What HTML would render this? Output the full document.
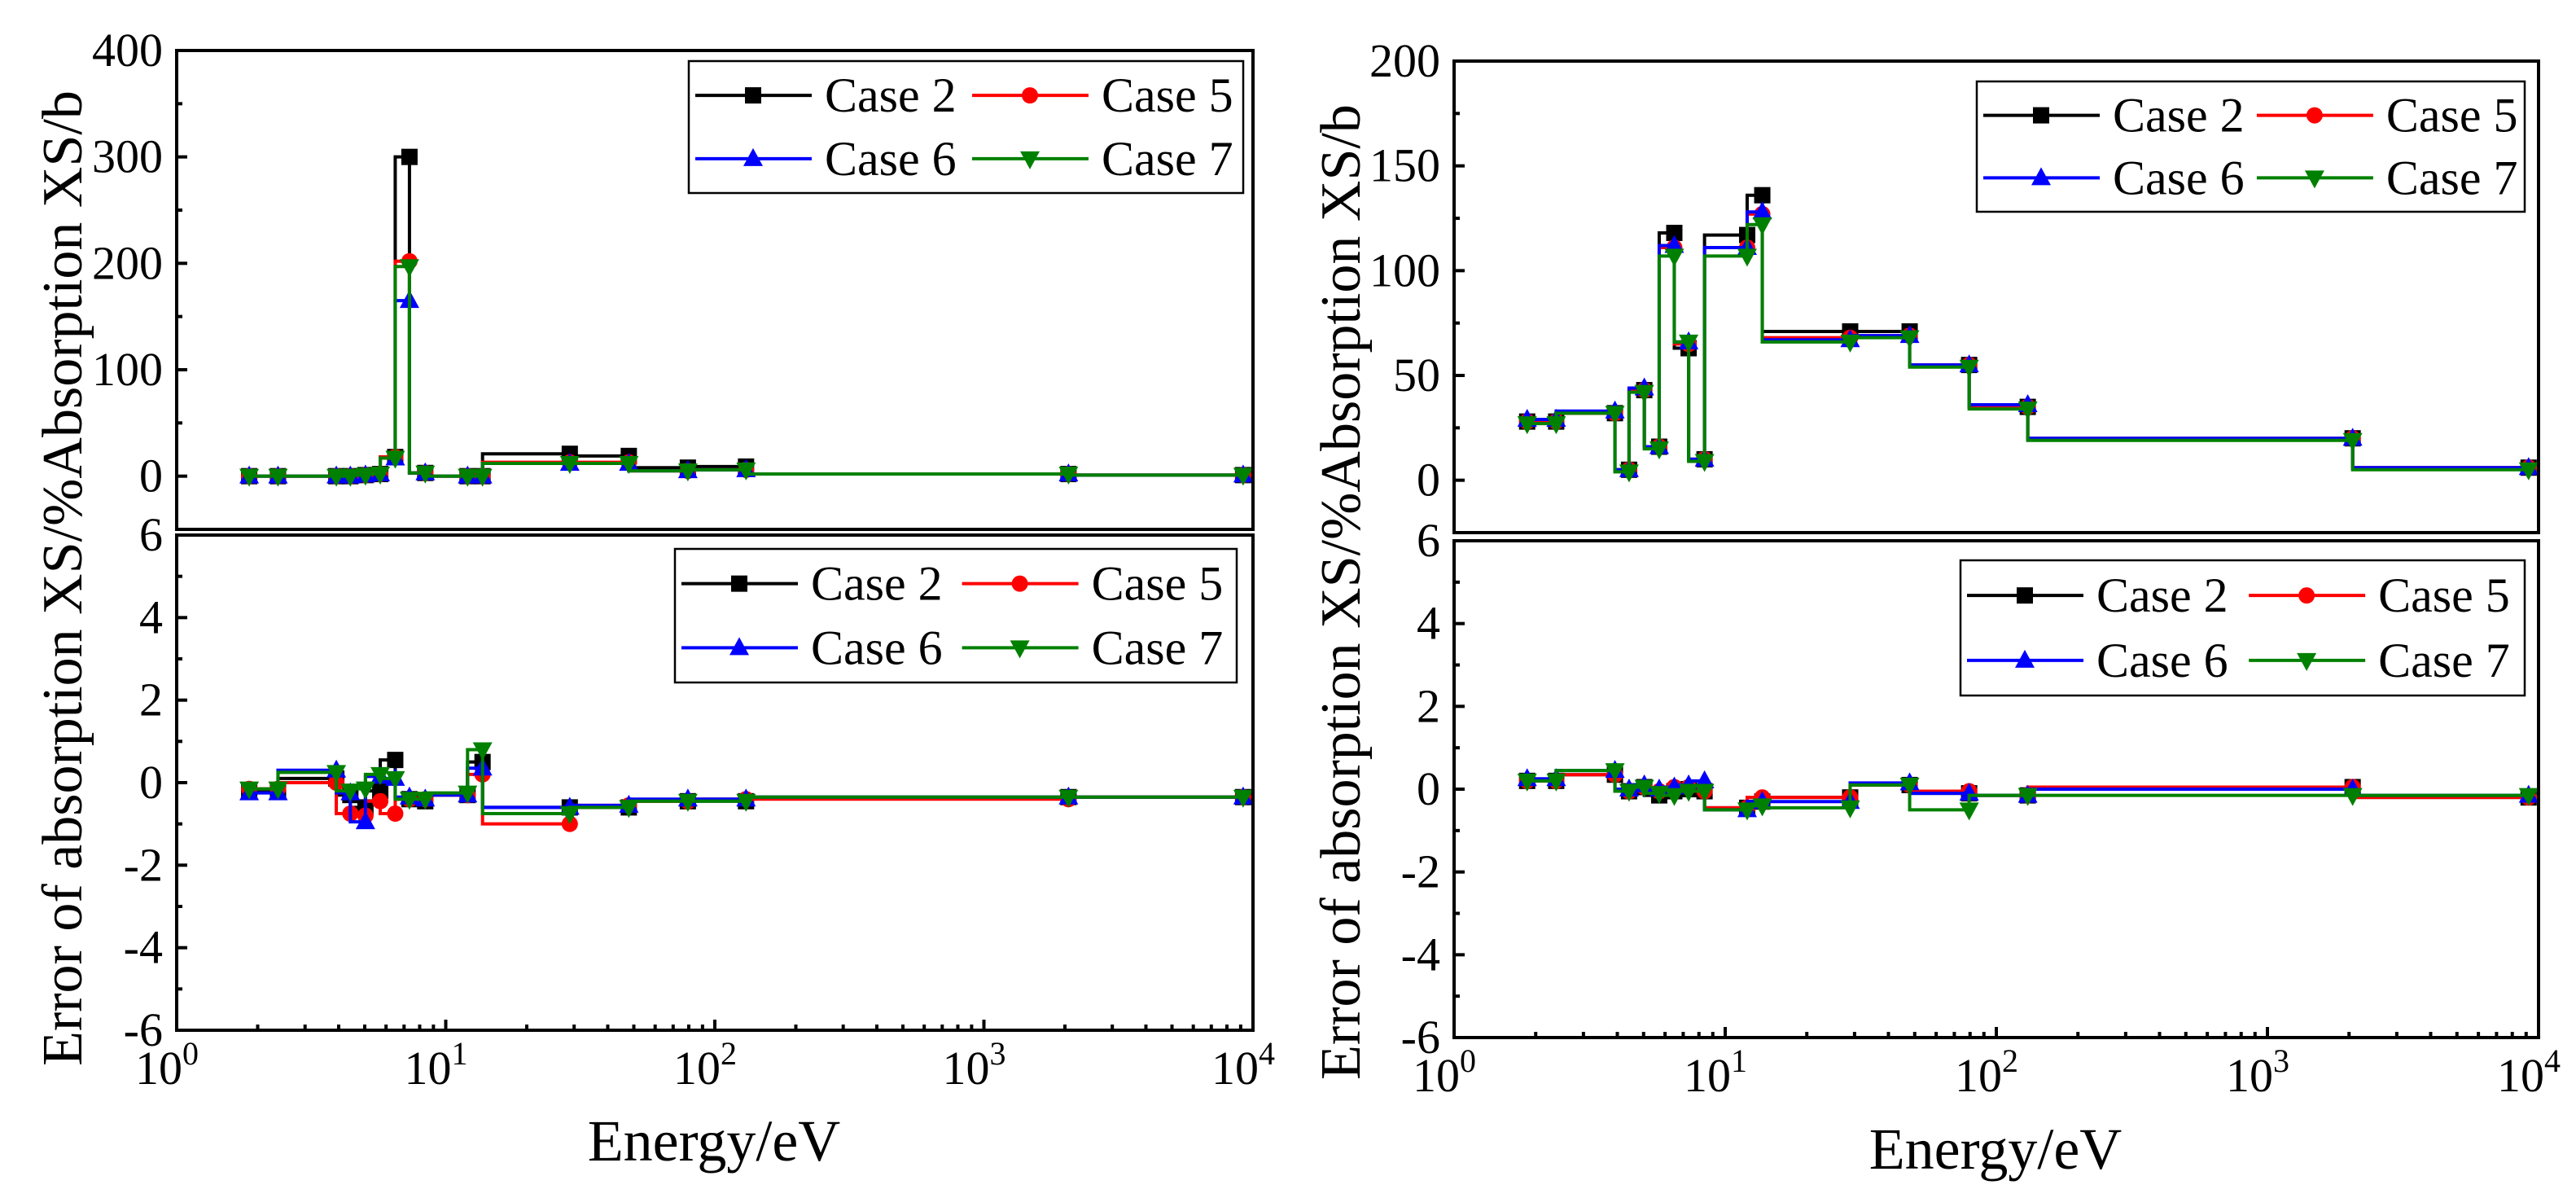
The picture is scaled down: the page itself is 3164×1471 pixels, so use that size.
<!DOCTYPE html>
<html><head><meta charset="utf-8"><style>
html,body{margin:0;padding:0;background:#fff;}
svg{display:block;}
svg text{font-family:"Liberation Serif","Times New Roman","DejaVu Serif","Noto Serif CJK SC",serif;}
</style></head><body>
<svg id="chart" width="3164" height="1471" viewBox="0 0 3164 1471" xmlns="http://www.w3.org/2000/svg"></svg>
<script>
// ---- data ----
const energies = [1.86,2.38,3.92,4.42,5.03,5.71,6.49,7.33,8.39,12.05,13.7,28.9,47.9,79.4,130.6,2062,9190];
const seriesNames = ["Case 2","Case 5","Case 6","Case 7"];
// left top: absorption XS (b)
const leftXS_case2 = [0,0,0,0,1,2,18,300,3,0,0,21,19,8,9,2,1];
const leftXS_case5 = [0,0,0,0,1,2,18,202,3,0,0,13,13,5,6,2,1];
const leftXS_case6 = [0,0,0,0,1,2,17,165,3,0,0,12,12,5,6,2,1];
const leftXS_case7 = [0,0,0,0,1,2,17,197,3,0,0,12,12,5,6,2,1];
// left bottom: error %
const leftErr_case2 = [-0.2,-0.2,0.1,-0.3,-0.6,-0.2,0.55,-0.4,-0.45,-0.3,0.5,-0.6,-0.6,-0.45,-0.45,-0.35,-0.35];
const leftErr_case5 = [-0.15,-0.15,0.0,-0.75,-0.8,-0.45,-0.75,-0.4,-0.4,-0.3,0.2,-1.0,-0.55,-0.45,-0.4,-0.4,-0.35];
const leftErr_case6 = [-0.25,-0.25,0.3,-0.25,-0.95,0.15,0.1,-0.35,-0.4,-0.3,0.35,-0.6,-0.55,-0.4,-0.4,-0.35,-0.35];
const leftErr_case7 = [-0.15,-0.15,0.25,-0.2,-0.15,0.2,0.1,-0.4,-0.4,-0.25,0.8,-0.75,-0.6,-0.45,-0.45,-0.35,-0.35];
// right top
const rightXS_case2 = [28,28,32,5,43,16,118,63,10,117,136,71,71,55,35,20,6];
const rightXS_case5 = [28,28,32,5,43,16,111,65,10,111,127,68,69,55,35,20,6];
const rightXS_case6 = [29,29,33,5,44,16,112,66,10,111,128,67,69,55,36,20,6];
const rightXS_case7 = [27,27,32,4,42,15,107,66,9,107,122,66,68,54,34,19,5];
// right bottom
const rightErr_case2 = [0.2,0.2,0.35,-0.05,0.05,-0.15,-0.05,0.0,-0.05,-0.45,-0.3,-0.2,0.1,-0.1,-0.15,0.05,-0.2];
const rightErr_case5 = [0.2,0.2,0.35,-0.05,0.05,-0.05,0.05,0.05,-0.05,-0.45,-0.2,-0.2,0.1,-0.05,-0.15,0.05,-0.2];
const rightErr_case6 = [0.25,0.25,0.45,0.0,0.1,0.0,0.05,0.1,0.2,-0.5,-0.3,-0.3,0.15,-0.1,-0.15,0.0,-0.15];
const rightErr_case7 = [0.2,0.2,0.45,-0.05,0.05,-0.1,-0.15,-0.05,-0.05,-0.5,-0.4,-0.45,0.1,-0.5,-0.15,-0.15,-0.15];
const xsTicksLeft = [0,100,200,300,400];
const xsTicksRight = [0,50,100,150,200];
const errTicks = [-6,-4,-2,0,2,4,6];
const xDecades = [0,1,2,3,4];

const NS="http://www.w3.org/2000/svg";
const svg=document.getElementById('chart');
const colors=["#000000","#ff0000","#0000ff","#008000"];
const markers=["square","circle","up","down"];
function mk(tag,attrs,parent){const e=document.createElementNS(NS,tag);for(const k in attrs)e.setAttribute(k,attrs[k]);(parent||svg).appendChild(e);return e;}
function marker(kind,x,y,c,g){
  const s=11;let e;
  if(kind==="square")e=mk('rect',{x:x-s+1,y:y-s+1,width:2*s-2,height:2*s-2,fill:c},g);
  else if(kind==="circle")e=mk('circle',{cx:x,cy:y,r:s-1,fill:c},g);
  else if(kind==="up")e=mk('polygon',{points:`${x},${y-s-2} ${x-s-1},${y+s-2} ${x+s+1},${y+s-2}`,fill:c},g);
  else e=mk('polygon',{points:`${x},${y+s+2} ${x-s-1},${y-s+2} ${x+s+1},${y-s+2}`,fill:c},g);
  
  
}
function panel(p){
  const g=mk('g',{});
  
  
  const X=v=>p.x0+(Math.log10(v)-0)/4*(p.x1-p.x0);
  const Y=v=>p.y1-(v-p.ymin)/(p.ymax-p.ymin)*(p.y1-p.y0);
  p.series.forEach((vals,si)=>{
    let d=`M${X(energies[0])},${Y(vals[0])}`;
    for(let i=1;i<vals.length;i++){d+=` L${X(energies[i-1])},${Y(vals[i])} L${X(energies[i])},${Y(vals[i])}`;}
    const sg=mk('g',{},g);
    
    
    const path=mk('path',{d:d,fill:'none',stroke:colors[si],'stroke-width':4},sg);
    
    
    vals.forEach((v,i)=>marker(markers[si],X(energies[i]),Y(v),colors[si],sg));
  });
  const fr=mk('rect',{x:p.x0,y:p.y0,width:p.x1-p.x0,height:p.y1-p.y0,fill:'none',stroke:'#000','stroke-width':4},g);
  
  
  p.ticks.forEach((t,i)=>{
    const y=Y(t);
    mk('line',{x1:p.x0,x2:p.x0+13,y1:y,y2:y,stroke:'#000','stroke-width':4},g);
    if(i<p.ticks.length-1){const ym=Y(t+(p.ticks[1]-p.ticks[0])/2);mk('line',{x1:p.x0,x2:p.x0+7,y1:ym,y2:ym,stroke:'#000','stroke-width':4},g);}
    const tx=mk('text',{x:p.x0-17,y:y+19,'text-anchor':'end','font-size':58},g);
    tx.textContent=t;
    
    
  });
  if(p.xaxis){
    xDecades.forEach(dv=>{
      const x=X(Math.pow(10,dv));
      mk('line',{x1:x,x2:x,y1:p.y1,y2:p.y1-13,stroke:'#000','stroke-width':4},g);
      if(dv<4)for(let m=2;m<=9;m++){const xm=X(m*Math.pow(10,dv));mk('line',{x1:xm,x2:xm,y1:p.y1,y2:p.y1-7,stroke:'#000','stroke-width':4},g);}
      const tx=mk('text',{x:x-12,y:p.y1+66,'text-anchor':'middle','font-size':58},g);
      tx.textContent='10';
      const sup=mk('tspan',{dy:-24,'font-size':40},tx);sup.textContent=String(dv);
      
      
    });
  }
  const L=p.legend;
  const lg=mk('g',{},g);
  
  
  mk('rect',{x:L.x,y:L.y,width:L.w,height:L.h,fill:'#fff',stroke:'#000','stroke-width':2.5},lg);
  const colX=[L.x+8,L.x+348*L.w/681],rowY=[L.y+L.h*0.26,L.y+L.h*0.74];
  seriesNames.forEach((n,i)=>{
    const cx=colX[i%2],cy=rowY[Math.floor(i/2)];
    const e=mk('g',{},lg);
    
    
    mk('line',{x1:cx,x2:cx+143,y1:cy,y2:cy,stroke:colors[i],'stroke-width':4},e);
    marker(markers[i],cx+71,cy,colors[i],e);
    const t=mk('text',{x:cx+159,y:cy+20,'font-size':60},e);t.textContent=n;
  });
}
function titles(cx,cy,ex,ey){
  const t=mk('text',{x:cx,y:cy,'text-anchor':'middle','font-size':70,transform:`rotate(-90 ${cx} ${cy})`});
  t.textContent='Error of absorption XS/%Absorption XS/b';
  
  
  const e=mk('text',{x:ex,y:ey,'text-anchor':'middle','font-size':72});
  e.textContent='Energy/eV';
  
  
}
panel({name:'left-top-panel',x0:217,x1:1539,y0:62,y1:650,ymin:-50,ymax:400,ticks:xsTicksLeft,
  series:[leftXS_case2,leftXS_case5,leftXS_case6,leftXS_case7],legend:{x:846,y:75,w:681,h:162}});
panel({name:'left-bottom-panel',x0:217,x1:1539,y0:657,y1:1265,ymin:-6,ymax:6,ticks:errTicks,xaxis:true,
  series:[leftErr_case2,leftErr_case5,leftErr_case6,leftErr_case7],legend:{x:829,y:674,w:690,h:164}});
panel({name:'right-top-panel',x0:1786,x1:3118,y0:75,y1:654,ymin:-25,ymax:200,ticks:xsTicksRight,
  series:[rightXS_case2,rightXS_case5,rightXS_case6,rightXS_case7],legend:{x:2428,y:100,w:673,h:160}});
panel({name:'right-bottom-panel',x0:1786,x1:3118,y0:664,y1:1274,ymin:-6,ymax:6,ticks:errTicks,xaxis:true,
  series:[rightErr_case2,rightErr_case5,rightErr_case6,rightErr_case7],legend:{x:2408,y:688,w:693,h:166}});
titles(100,710,877,1425);
titles(1670,727,2451,1435);
</script>
</body></html>
